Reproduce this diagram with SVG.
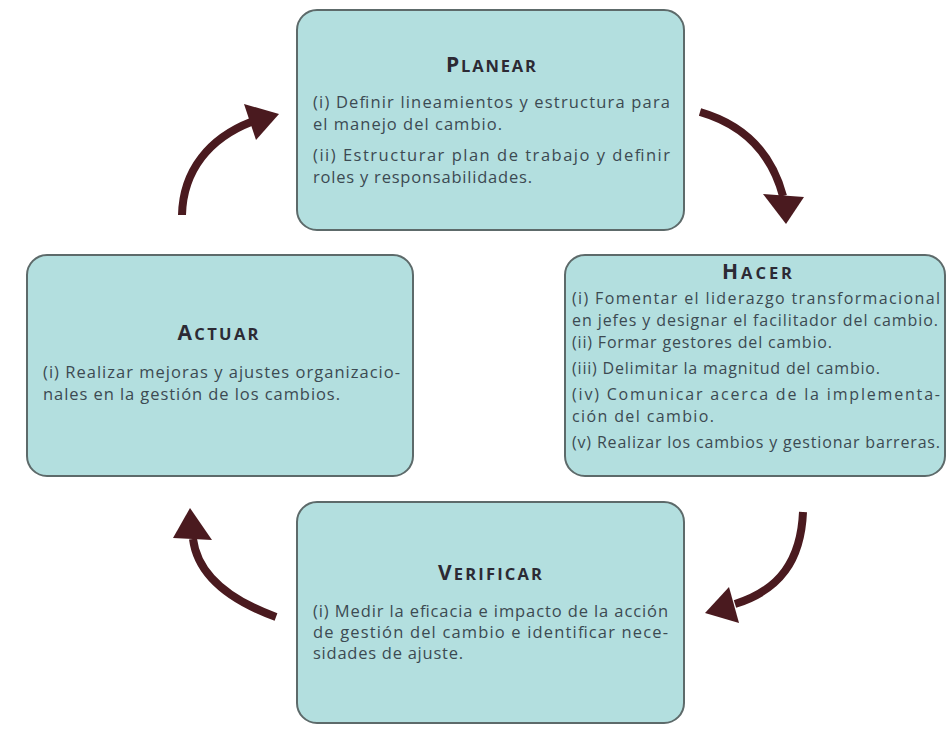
<svg xmlns="http://www.w3.org/2000/svg" width="947" height="731" viewBox="0 0 947 731">
<style>
.box{fill:#b3dfdf;stroke:#5d6a6a;stroke-width:2}
.title{font-family:"Open Sans","Liberation Sans",sans-serif;font-weight:bold;fill:#2c2a34;text-anchor:middle}
.big{font-size:21px}
.sm{font-size:16.5px}
.body{font-family:"Open Sans","Liberation Sans",sans-serif;font-size:16.5px;fill:#3c4a52}
.hb{font-size:16px}
.arr{fill:none;stroke:#4a1a1f;stroke-width:8}
.head{fill:#4a1a1f}
</style>
<rect width="947" height="731" fill="#ffffff"/>
<g id="connectors">
  <path class="arr" d="M700,112 C745,125 772,155 783,196"/>
  <polygon class="head" points="763,194 804,197 786,224"/>
  <path class="arr" d="M803,512 C801,560 780,590 735,604"/>
  <polygon class="head" points="729,587 739,623 705,613"/>
  <path class="arr" d="M276,617 C235,602 198,578 193,539"/>
  <polygon class="head" points="173,538 212,540 190,508"/>
  <path class="arr" d="M182,215 C183,170 210,138 251,122"/>
  <polygon class="head" points="244,104 256,140 279,114"/>
</g>
<g id="planear">
  <rect class="box" x="297" y="10" width="387" height="220" rx="20"/>
  <text class="title" x="491" y="72" textLength="90"><tspan class="big">P</tspan><tspan class="sm">LANEAR</tspan></text>
  <text class="body" x="313" y="108" textLength="357">(i) Definir lineamientos y estructura para</text>
  <text class="body" x="313" y="130" textLength="189">el manejo del cambio.</text>
  <text class="body" x="313" y="161" textLength="357">(ii) Estructurar plan de trabajo y definir</text>
  <text class="body" x="313" y="183" textLength="219">roles y responsabilidades.</text>
</g>
<g id="hacer">
  <rect class="box" x="565" y="255" width="380" height="221" rx="20"/>
  <text class="title" x="757" y="279" textLength="70"><tspan class="big">H</tspan><tspan class="sm">ACER</tspan></text>
  <text class="body hb" x="572" y="304" textLength="368">(i) Fomentar el liderazgo transformacional</text>
  <text class="body hb" x="572" y="326" textLength="366">en jefes y designar el facilitador del cambio.</text>
  <text class="body hb" x="572" y="348" textLength="260">(ii) Formar gestores del cambio.</text>
  <text class="body hb" x="572" y="374" textLength="308">(iii) Delimitar la magnitud del cambio.</text>
  <text class="body hb" x="572" y="400" textLength="368">(iv) Comunicar acerca de la implementa-</text>
  <text class="body hb" x="572" y="422" textLength="142">ción del cambio.</text>
  <text class="body hb" x="572" y="448" textLength="368">(v) Realizar los cambios y gestionar barreras.</text>
</g>
<g id="actuar">
  <rect class="box" x="27" y="255" width="386" height="221" rx="20"/>
  <text class="title" x="218" y="340" textLength="81"><tspan class="big">A</tspan><tspan class="sm">CTUAR</tspan></text>
  <text class="body" x="43" y="378" textLength="357">(i) Realizar mejoras y ajustes organizacio-</text>
  <text class="body" x="43" y="400" textLength="297">nales en la gestión de los cambios.</text>
</g>
<g id="verificar">
  <rect class="box" x="297" y="502" width="387" height="221" rx="20"/>
  <text class="title" x="490" y="580" textLength="104"><tspan class="big">V</tspan><tspan class="sm">ERIFICAR</tspan></text>
  <text class="body" x="313" y="617" textLength="355">(i) Medir la eficacia e impacto de la acción</text>
  <text class="body" x="313" y="638" textLength="355">de gestión del cambio e identificar nece-</text>
  <text class="body" x="313" y="659" textLength="150">sidades de ajuste.</text>
</g>
</svg>
